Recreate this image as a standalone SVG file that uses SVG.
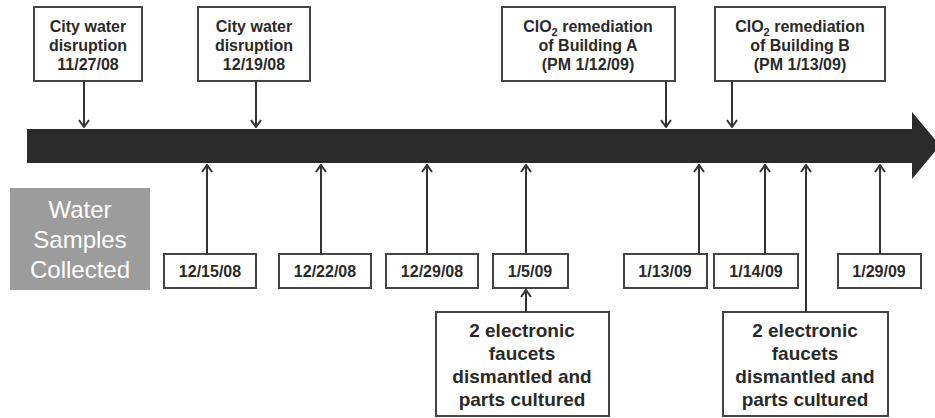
<svg xmlns="http://www.w3.org/2000/svg" width="935" height="418" viewBox="0 0 935 418">
<defs>
<marker id="ah" markerWidth="12" markerHeight="12" viewBox="0 0 12 12" refX="11" refY="6" orient="auto" markerUnits="userSpaceOnUse">
<path d="M4,1 L11,6 L4,11" fill="none" stroke="#333" stroke-width="2"/>
</marker>
<style>
.box{fill:#fff;stroke:#444;stroke-width:2}
.t{font-family:"Liberation Sans",Arial,sans-serif;font-weight:bold;font-size:16px;fill:#2a2a2a;text-anchor:middle}
.tb{font-family:"Liberation Sans",Arial,sans-serif;font-weight:bold;font-size:19px;fill:#2a2a2a;text-anchor:middle}
.c{stroke:#333;stroke-width:2;fill:none}
</style>
</defs>
<rect width="935" height="418" fill="#fff"/>
<g id="timeline">
<polygon points="27,129 912,129 912,112 940,145.5 912,179 912,163 27,163" fill="#2b2b2b"/>
</g>
<g id="water-samples">
<rect x="10" y="188" width="140" height="102" fill="#9c9c9c"/>
<text x="80" y="218" font-family="'Liberation Sans',Arial,sans-serif" font-size="24" fill="#fff" text-anchor="middle">Water</text>
<text x="80" y="248" font-family="'Liberation Sans',Arial,sans-serif" font-size="24" fill="#fff" text-anchor="middle">Samples</text>
<text x="80" y="278" font-family="'Liberation Sans',Arial,sans-serif" font-size="24" fill="#fff" text-anchor="middle">Collected</text>
</g>
<g id="top1">
<rect class="box" x="34" y="7" width="108" height="74"/>
<text class="t" x="88" y="32">City water</text>
<text class="t" x="88" y="51">disruption</text>
<text class="t" x="88" y="70">11/27/08</text>
</g>
<g id="top2">
<rect class="box" x="198" y="7" width="112" height="74"/>
<text class="t" x="254" y="32">City water</text>
<text class="t" x="254" y="51">disruption</text>
<text class="t" x="254" y="70">12/19/08</text>
</g>
<g id="top3">
<rect class="box" x="502" y="7" width="173" height="74"/>
<text class="t" x="588" y="32">ClO<tspan font-size="11" dy="4">2</tspan><tspan dy="-4"> remediation</tspan></text>
<text class="t" x="588" y="51">of Building A</text>
<text class="t" x="588" y="70">(PM 1/12/09)</text>
</g>
<g id="top4">
<rect class="box" x="715" y="7" width="170" height="74"/>
<text class="t" x="800" y="32">ClO<tspan font-size="11" dy="4">2</tspan><tspan dy="-4"> remediation</tspan></text>
<text class="t" x="800" y="51">of Building B</text>
<text class="t" x="800" y="70">(PM 1/13/09)</text>
</g>
<g id="d1"><rect class="box" x="164" y="254" width="92" height="34"/><text class="t" x="210" y="277">12/15/08</text></g>
<g id="d2"><rect class="box" x="279" y="254" width="92" height="34"/><text class="t" x="325" y="277">12/22/08</text></g>
<g id="d3"><rect class="box" x="386" y="254" width="92" height="34"/><text class="t" x="432" y="277">12/29/08</text></g>
<g id="d4"><rect class="box" x="493" y="254" width="75" height="34"/><text class="t" x="530" y="277">1/5/09</text></g>
<g id="d5"><rect class="box" x="624" y="254" width="83" height="34"/><text class="t" x="665" y="277">1/13/09</text></g>
<g id="d6"><rect class="box" x="714" y="254" width="84" height="34"/><text class="t" x="756" y="277">1/14/09</text></g>
<g id="d7"><rect class="box" x="838" y="254" width="83" height="34"/><text class="t" x="879" y="277">1/29/09</text></g>
<g id="f1">
<rect class="box" x="436" y="312" width="173" height="104"/>
<text class="tb" x="522" y="337">2 electronic</text>
<text class="tb" x="522" y="360">faucets</text>
<text class="tb" x="522" y="383">dismantled and</text>
<text class="tb" x="522" y="406">parts cultured</text>
</g>
<g id="f2">
<rect class="box" x="723" y="312" width="165" height="104"/>
<text class="tb" x="805" y="337">2 electronic</text>
<text class="tb" x="805" y="360">faucets</text>
<text class="tb" x="805" y="383">dismantled and</text>
<text class="tb" x="805" y="406">parts cultured</text>
</g>
<g id="connectors">
<line class="c" x1="84" y1="81" x2="84" y2="127" marker-end="url(#ah)"/>
<line class="c" x1="256" y1="81" x2="256" y2="127" marker-end="url(#ah)"/>
<line class="c" x1="666" y1="81" x2="666" y2="127" marker-end="url(#ah)"/>
<line class="c" x1="732" y1="81" x2="732" y2="127" marker-end="url(#ah)"/>
<line class="c" x1="207" y1="254" x2="207" y2="165" marker-end="url(#ah)"/>
<line class="c" x1="321" y1="254" x2="321" y2="165" marker-end="url(#ah)"/>
<line class="c" x1="427" y1="254" x2="427" y2="165" marker-end="url(#ah)"/>
<line class="c" x1="526" y1="254" x2="526" y2="165" marker-end="url(#ah)"/>
<line class="c" x1="699" y1="254" x2="699" y2="165" marker-end="url(#ah)"/>
<line class="c" x1="765" y1="254" x2="765" y2="165" marker-end="url(#ah)"/>
<line class="c" x1="880" y1="254" x2="880" y2="165" marker-end="url(#ah)"/>
<line class="c" x1="806" y1="312" x2="806" y2="165" marker-end="url(#ah)"/>
<line class="c" x1="526" y1="312" x2="526" y2="290" marker-end="url(#ah)"/>
</g>
</svg>
